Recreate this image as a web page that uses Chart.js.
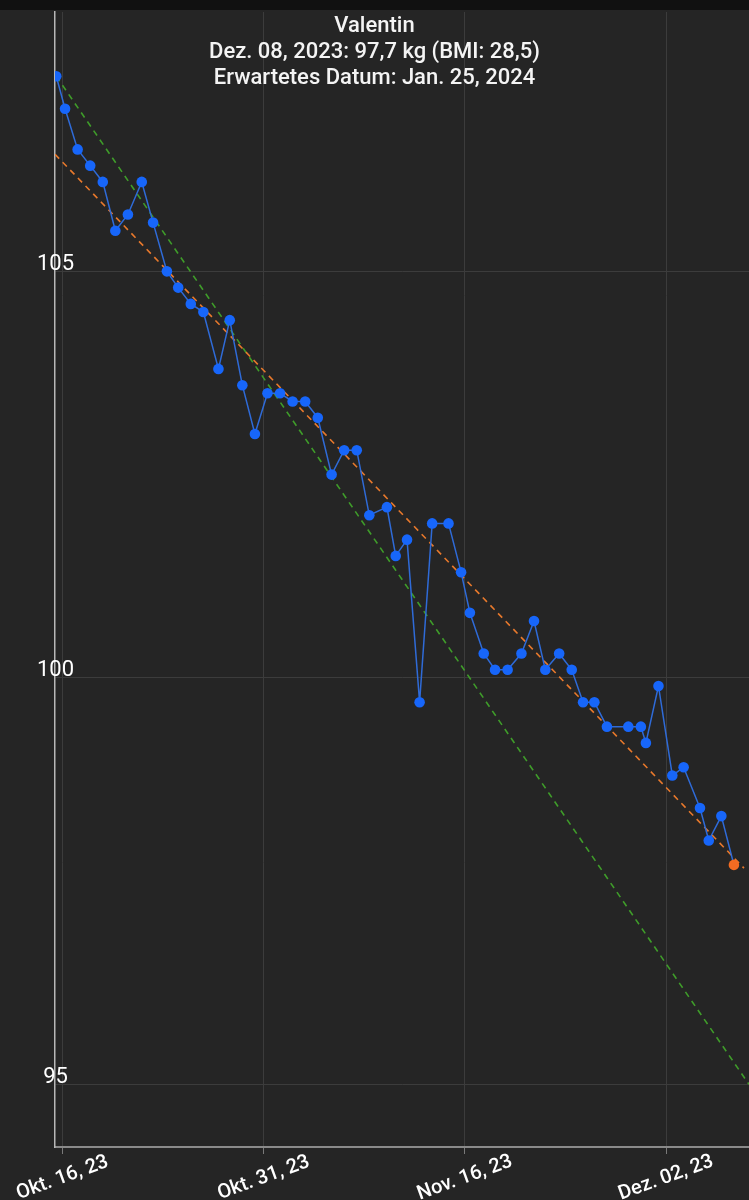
<!DOCTYPE html>
<html>
<head>
<meta charset="utf-8">
<script src="https://cdn.jsdelivr.net/npm/chart.js@4.4.1/dist/chart.umd.min.js"></script>
<style>
  html, body { margin: 0; padding: 0; background: #252525; width: 749px; height: 1200px; overflow: hidden; }
  #wrap { position: absolute; left: 0; top: 0; width: 749px; height: 1200px; }
  #bar { position: absolute; left: 0; top: 0; width: 749px; height: 10px; background: #111111; }
</style>
</head>
<body>
<div id="wrap"><canvas id="c" width="749" height="1200"></canvas></div>
<div id="bar"></div>
<script>
// ---- data ----
const titleLines = ['Valentin', 'Dez. 08, 2023: 97,7 kg (BMI: 28,5)', 'Erwartetes Datum: Jan. 25, 2024'];

// measurement time in days since Okt. 15, 2023
const measureDays = [0.1, 0.8, 1.8, 2.8, 3.8, 4.8, 5.8, 6.9, 7.8, 8.9,
  9.8, 10.8, 11.8, 13.0, 13.9, 14.9, 15.9, 16.9, 17.9, 18.9,
  19.9, 20.9, 22.0, 23.0, 24.0, 25.0, 26.4, 27.1, 28.0, 29.0,
  30.0, 31.3, 32.3, 33.0, 34.1, 35.0, 36.0, 37.1, 38.1, 39.0,
  40.1, 41.1, 42.0, 42.9, 43.9, 45.6, 46.6, 47.0, 48.0, 49.1,
  50.0, 51.3, 52.0, 53.0, 54.0];
const weights = [107.4, 107.0, 106.5, 106.3, 106.1, 105.5, 105.7, 106.1, 105.6, 105.0,
  104.8, 104.6, 104.5, 103.8, 104.4, 103.6, 103.0, 103.5, 103.5, 103.4,
  103.4, 103.2, 102.5, 102.8, 102.8, 102.0, 102.1, 101.5, 101.7, 99.7,
  101.9, 101.9, 101.3, 100.8, 100.3, 100.1, 100.1, 100.3, 100.7, 100.1,
  100.3, 100.1, 99.7, 99.7, 99.4, 99.4, 99.4, 99.2, 99.9, 98.8,
  98.9, 98.4, 98.0, 98.3, 97.7];

const trendDays = [0, 54.8];
const trendWeights = [106.44, 97.66];
const targetDays = [0.1, 55.2];
const targetWeights = [107.4, 95.0];

const xTickDays = [0.6, 16.6, 32.6, 48.6];
const xTickLabels = ['Okt. 16, 23', 'Okt. 31, 23', 'Nov. 16, 23', 'Dez. 02, 23'];
const yTicks = [95, 100, 105];

// ---- chart ----
const toPts = (xs, ys) => xs.map((x, i) => ({ x: x, y: ys[i] }));
const lastIdx = weights.length - 1;

const titlePlugin = {
  id: 'topTitle',
  afterDraw(chart) {
    const ctx = chart.ctx;
    ctx.save();
    ctx.fillStyle = '#f4f4f4';
    ctx.font = '500 22px Roboto';
    ctx.textAlign = 'center';
    ctx.textBaseline = 'alphabetic';
    const base = [32, 57.5, 84];
    titleLines.forEach((t, i) => ctx.fillText(t, 374.5, base[i]));
    ctx.restore();
  }
};

// x tick labels: rotated and centred on their tick, as in the reference
const xLabelPlugin = {
  id: 'xLabels',
  afterDraw(chart) {
    const sx = chart.scales.x;
    const ctx = chart.ctx;
    ctx.save();
    ctx.fillStyle = '#ffffff';
    ctx.font = '500 20px Roboto';
    ctx.textAlign = 'center';
    ctx.textBaseline = 'middle';
    sx.ticks.forEach((t, i) => {
      const px = sx.getPixelForValue(t.value);
      ctx.save();
      ctx.translate(px, sx.top + 31);
      ctx.rotate(-20 * Math.PI / 180);
      ctx.fillText(xTickLabels[i], 0, 0);
      ctx.restore();
    });
    ctx.restore();
  }
};

new Chart(document.getElementById('c'), {
  type: 'line',
  data: {
    datasets: [
      {
        data: toPts(measureDays, weights),
        borderColor: '#2f6bd8',
        borderWidth: 1.5,
        pointRadius: 5.3,
        pointBorderWidth: 0,
        pointBackgroundColor: (c) => c.dataIndex === lastIdx ? '#f26b22' : '#1766fa',
        tension: 0
      },
      {
        data: toPts(trendDays, trendWeights),
        borderColor: '#e8792c',
        borderWidth: 1.6,
        borderDash: [6, 5],
        pointRadius: 0
      },
      {
        data: toPts(targetDays, targetWeights),
        borderColor: '#3f9c2a',
        borderWidth: 1.6,
        borderDash: [6, 5],
        pointRadius: 0
      }
    ]
  },
  options: {
    responsive: false,
    animation: false,
    devicePixelRatio: 1,
    layout: { autoPadding: false, padding: { top: 12, left: 55, right: 0, bottom: 0 } },
    plugins: { legend: { display: false }, tooltip: { enabled: false }, title: { display: false } },
    scales: {
      x: {
        type: 'linear',
        min: 0,
        max: 55.2,
        afterBuildTicks: (s) => { s.ticks = xTickDays.map(v => ({ value: v })); },
        afterFit: (s) => { s.height = 53; },
        ticks: {
          display: false,
          autoSkip: false,
          callback: (v, i) => xTickLabels[i]
        },
        grid: { color: '#3c3c3c', lineWidth: 1, drawTicks: true, tickLength: 7, tickColor: '#7a7a7a' },
        border: { color: '#8a8a8a', width: 2 }
      },
      y: {
        min: 94.23,
        max: 108.19,
        afterBuildTicks: (s) => { s.ticks = yTicks.map(v => ({ value: v })); },
        afterFit: (s) => { s.width = 0; s.paddingTop = 0; s.paddingBottom = 0; },
        ticks: {
          mirror: true,
          crossAlign: 'center',
          padding: -18,
          labelOffset: -7,
          color: '#ffffff',
          font: { family: 'Roboto', size: 22 },
          callback: (v) => String(v)
        },
        grid: { color: '#3c3c3c', drawTicks: false },
        border: { color: '#b8b8b8', width: 1.5 }
      }
    }
  },
  plugins: [titlePlugin, xLabelPlugin]
});
</script>
</body>
</html>
